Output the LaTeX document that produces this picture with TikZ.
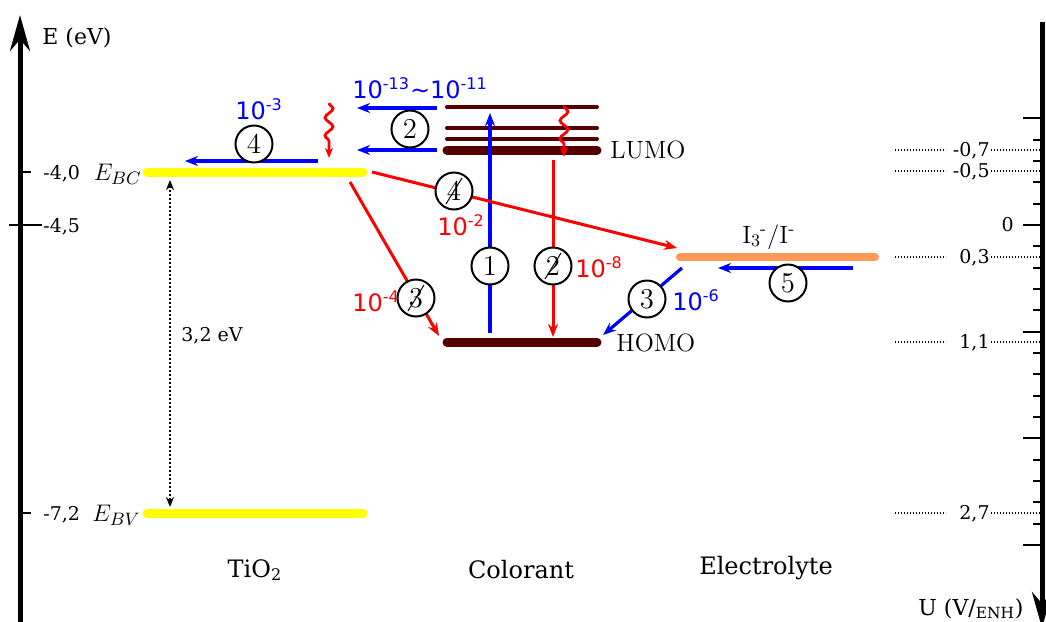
\documentclass[tikz,border=0pt]{standalone}
\usepackage{fontspec}
\newfontfamily\axisfont{DejaVu Serif}
\newfontfamily\ratefont{DejaVu Sans}
\usetikzlibrary{arrows.meta,positioning,decorations.pathmorphing}
\definecolor{dyebrown}{RGB}{85,0,0}
\definecolor{bandyellow}{RGB}{255,255,0}
\definecolor{redoxorange}{RGB}{255,153,85}
\definecolor{rateblue}{RGB}{0,0,255}
\definecolor{ratered}{RGB}{255,0,0}
\tikzset{
  axisline/.style={line width=2.5pt},
  tickline/.style={line width=1pt},
  band/.style={draw=bandyellow,line width=4.5pt,line cap=round},
  dyelevel/.style={draw=dyebrown,line width=2pt,line cap=round},
  dyemain/.style={draw=dyebrown,line width=4.5pt,line cap=round},
  redoxlevel/.style={draw=redoxorange,line width=4pt,line cap=round},
  forward/.style={draw=rateblue,line width=1.6pt,-{Stealth[length=6.5pt,width=5pt]}},
  loss/.style={draw=ratered,line width=1.5pt,-{Stealth[length=6.5pt,width=5pt]}},
  wavy/.style={draw=ratered,line width=1.4pt,-{Stealth[length=5pt,width=4pt]},
    decorate,decoration={snake,amplitude=2pt,segment length=9pt,post length=4pt}},
  gaparrow/.style={line width=1.2pt,dash pattern=on 1pt off 1pt,
    {Stealth[length=5pt,width=4pt]}-{Stealth[length=5pt,width=4pt]}},
  guide/.style={line width=0.6pt,dash pattern=on 0.6pt off 0.9pt},
  stagecircle/.style={circle,draw=black,text=black,line width=1pt,fill=white,
    minimum size=18.5pt,inner sep=0pt,font=\fontsize{14}{16}\selectfont},
  stagecross/.style={stagecircle,path picture={\draw[line width=0.5pt]
    (path picture bounding box.center) ++(-4pt,-6.5pt) -- ++(8pt,13pt);}},
  bluerate/.style={font=\ratefont\fontsize{12}{14}\selectfont,text=rateblue,inner sep=0pt},
  redrate/.style={font=\ratefont\fontsize{12}{14}\selectfont,text=ratered,inner sep=0pt},
  scalelabel/.style={font=\axisfont\fontsize{9.5}{11}\selectfont,inner sep=0pt},
  axislabel/.style={font=\axisfont\fontsize{11}{13}\selectfont,inner sep=0pt},
  column/.style={font=\axisfont\fontsize{12}{14}\selectfont,inner sep=0pt},
  levellabel/.style={font=\fontsize{12.5}{15}\selectfont,inner sep=0pt}
}

\begin{document}
\begin{tikzpicture}[x=0.5pt,y=-0.5pt]
  \useasboundingbox (0,0) rectangle (1046,622);

  % energy axis (left) and potential axis (right)
  \coordinate (eaxisbot) at (20,640);
  \coordinate (eaxistop) at (20,15);
  \coordinate (uaxistop) at (1042,22);
  \coordinate (uaxisbot) at (1042,628);
  \draw[axisline,-{Stealth[length=18pt,width=10pt]}] (eaxisbot) -- (eaxistop);
  \draw[axisline,-{Stealth[length=18pt,width=10pt]}] (uaxistop) -- (uaxisbot);
  \node[axislabel,anchor=base west] (elabel) at (42,44) {E (eV)};
  \node[axislabel,anchor=base west] (ulabel) at (918,615) {U (V/\textsubscript{ENH})};

  \draw[tickline] (20,172) -- (31,172);
  \draw[tickline] (9,225) -- (42,225);
  \draw[tickline] (20,513) -- (31,513);
  \node[scalelabel,anchor=base west] (e40) at (43,179) {-4,0};
  \node[scalelabel,anchor=base west] (e45) at (43,232) {-4,5};
  \node[scalelabel,anchor=base west] (e72) at (43,520) {-7,2};

  \foreach \i in {-5,...,15}
    \draw[tickline] (1033,{225+21.34*\i}) -- (1042,{225+21.34*\i});
  \foreach \i in {-1,...,3}
    \draw[tickline] (1023,{225+106.7*\i}) -- (1042,{225+106.7*\i});
  \node[scalelabel,anchor=base east] (u0) at (1014,231) {0};
  \foreach \y/\txt in {150/{-0,7},171/{-0,5},257/{0,3},342/{1,1},513/{2,7}}{
    \node[scalelabel,anchor=base east] (u\y) at (990,\y+6) {\txt};
    \draw[guide] (895,\y) -- (946,\y);
    \draw[guide] (991,\y) -- (1040,\y);
  }

  % levels
  \coordinate (cbL) at (147,172); \coordinate (cbR) at (363,172);
  \coordinate (vbL) at (147,513); \coordinate (vbR) at (363,513);
  \draw[band] (cbL) -- (cbR);
  \draw[band] (vbL) -- (vbR);
  \node[levellabel,anchor=base east] (ebc) at (142,180) {$E_{BC}$};
  \node[levellabel,anchor=base east] (ebv) at (141,521) {$E_{BV}$};

  \foreach \y in {107,128,139}
    \draw[dyelevel] (447,\y) -- (597,\y);
  \coordinate (lumoL) at (447,150); \coordinate (lumoR) at (597,150);
  \coordinate (homoL) at (447,342); \coordinate (homoR) at (597,342);
  \draw[dyemain] (lumoL) -- (lumoR);
  \draw[dyemain] (homoL) -- (homoR);
  \node[levellabel,anchor=base west] (lumo) at (610,158) {LUMO};
  \node[levellabel,anchor=base west] (homo) at (616,351) {HOMO};

  \coordinate (redoxL) at (680,257); \coordinate (redoxR) at (875,257);
  \draw[redoxlevel] (redoxL) -- (redoxR);
  \node[levellabel,anchor=base west] (redox) at (742,243)
    {I\textsubscript{3}\kern-0.5pt\textsuperscript{-}/I\textsuperscript{-}};

  % band gap
  \coordinate (gapTop) at (170,180); \coordinate (gapBot) at (170,507);
  \draw[gaparrow] (gapTop) -- (gapBot);
  \node[scalelabel,anchor=base west] (gap) at (181,341) {3,2 eV};

  % transfer paths
  \coordinate (trS) at (318,161); \coordinate (trE) at (185,161);
  \coordinate (injAS) at (437,108); \coordinate (injAE) at (357,108);
  \coordinate (injBS) at (437,150); \coordinate (injBE) at (357,150);
  \coordinate (excS) at (490,333); \coordinate (excE) at (490,113);
  \coordinate (relS) at (553,160); \coordinate (relE) at (553,337);
  \coordinate (backS) at (372,172); \coordinate (backE) at (677,248);
  \coordinate (recS) at (350,182); \coordinate (recE) at (439,336);
  \coordinate (regS) at (682,268); \coordinate (regE) at (603,335);
  \coordinate (difS) at (853,268); \coordinate (difE) at (718,268);
  \coordinate (thTS) at (329,103); \coordinate (thTE) at (329,158);
  \coordinate (thDS) at (564,106); \coordinate (thDE) at (564,157);

  \draw[forward] (trS) -- (trE);
  \draw[forward] (injAS) -- (injAE);
  \draw[forward] (injBS) -- (injBE);
  \draw[forward] (excS) -- (excE);
  \draw[loss] (relS) -- (relE);
  \draw[loss] (backS) -- (backE);
  \draw[loss] (recS) -- (recE);
  \draw[forward] (regS) -- (regE);
  \draw[forward] (difS) -- (difE);
  \draw[wavy] (thTS) -- (thTE);
  \draw[wavy] (thDS) -- (thDE);

  % stage marks
  \node[stagecircle] (st4) at (254,144) {$4$};
  \node[stagecircle] (st2) at (410,129) {$2$};
  \node[stagecircle] (st1) at (490,266) {$1$};
  \node[stagecross] (st2x) at (553,266) {$2$};
  \node[stagecross] (st4x) at (454,191) {$4$};
  \node[stagecross] (st3x) at (416,298) {$3$};
  \node[stagecircle] (st3) at (647,299) {$3$};
  \node[stagecircle] (st5) at (788,283) {$5$};

  % rates
  \node[bluerate,anchor=base west] (r4) at (235,119) {10\textsuperscript{-3}};
  \node[bluerate,anchor=base west] (r2) at (352,98)
    {10\textsuperscript{-13}\textasciitilde 10\textsuperscript{-11}};
  \node[redrate,anchor=base west] (r4x) at (437,235) {10\textsuperscript{-2}};
  \node[redrate,anchor=base west] (r2x) at (575,277) {10\textsuperscript{-8}};
  \node[redrate,anchor=base west] (r3x) at (352,311) {10\textsuperscript{-4}};
  \node[bluerate,anchor=base west] (r3) at (672,310) {10\textsuperscript{-6}};

  % columns
  \node[column,anchor=base] (tio2) at (255,577) {TiO\textsubscript{2}};
  \node[column,anchor=base] (dye) at (521,578) {Colorant};
  \node[column,anchor=base] (elec) at (766,574) {Electrolyte};
\end{tikzpicture}
\end{document}
